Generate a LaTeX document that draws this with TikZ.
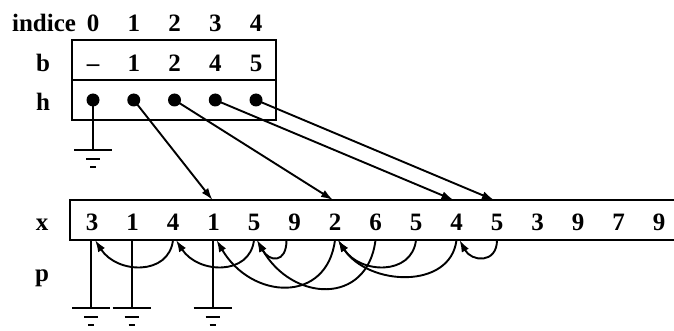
\documentclass[tikz,border=0pt]{standalone}
\usepackage{fontspec}
\setmainfont{Liberation Serif}
\usetikzlibrary{arrows.meta}
\begin{document}
\begin{tikzpicture}[x=1pt,y=-1pt,
  lbl/.style={font=\fontsize{25}{25}\selectfont\bfseries, inner sep=0pt, text height=17pt, text depth=0pt},
  cell/.style={font=\fontsize{25}{25}\selectfont\bfseries, inner sep=0pt, minimum width=40pt, text height=17pt, text depth=0pt},
  box/.style={line width=2.3pt},
  ptr/.style={line width=1.9pt, -{Latex[length=12pt,width=8pt]}},
  dot/.style={circle, fill=black, inner sep=0pt, minimum size=13pt},
  gnd/.style={line width=2pt},
  ground/.pic={\draw[gnd] (-19,0)--(19,0); \draw[gnd] (-7,9)--(7,9); \draw[gnd] (-3,17)--(3,17);}]
\useasboundingbox (0,0) rectangle (674,331);
% labels
\node[lbl] (lind) at (44,23) {indice};
\node[lbl] (lb) at (43,63) {b};
\node[lbl] (lh) at (43,102) {h};
\node[lbl] (lx) at (42,222) {x};
\node[lbl] (lp) at (42,273) {p};
% top table
\draw[box] (72,40) rectangle (276,120);
\draw[box] (72,80) -- (276,80);
\foreach \k/\v in {0/--,1/1,2/2,3/4,4/5}{
  \node[lbl] (i\k) at (93+40.75*\k,23) {\k};
  \node[cell] (b\k) at (93+40.75*\k,63) {\v};
  \node[dot] (h\k) at (93+40.75*\k,100) {};
}
% x array
\draw[box] (676,200) -- (70,200) -- (70,240) -- (676,240);
\foreach \v [count=\i from 0] in {3,1,4,1,5,9,2,6,5,4,5,3,9,7,9}{
  \node[cell] (x\i) at (92+40.5*\i,221.5) {\v};
}
\foreach \i in {0,...,14}{
  \coordinate (xt\i) at (x\i |- 0,200);
  \coordinate (xb\i) at (x\i |- 0,240);
}
% h pointers
\coordinate (g0) at (93,150);
\draw[gnd] (h0.center) -- (g0);
\pic at (g0) {ground};
\draw[ptr] (h1.center) -- ([xshift=-1pt]xt3);
\draw[ptr] (h2.center) -- ([xshift=-2pt]xt6);
\draw[ptr] (h3.center) -- ([xshift=-3pt]xt9);
\draw[ptr] (h4.center) -- ([xshift=-3pt]xt10);
% p grounds
\foreach \i in {0,1,3}{
  \coordinate (pg\i) at ([xshift=-1pt]xb\i |- 0,308);
  \draw[gnd] ([xshift=-1pt]xb\i) -- (pg\i);
  \pic at (pg\i) {ground};
}
% p arcs
\draw[ptr] (xb2) .. controls +(-4,36) and +(22,34) .. ([xshift=3pt]xb0);
\draw[ptr] (xb4) .. controls +(-4,36) and +(22,34) .. ([xshift=3pt]xb2);
\draw[ptr] ([xshift=-8pt]xb5) .. controls +(0,24) and +(12,22) .. ([xshift=3pt]xb4);
\draw[ptr] (xb6) .. controls +(-8,64) and +(35,60) .. ([xshift=3pt]xb3);
\draw[ptr] (xb7) .. controls +(-8,66) and +(35,62) .. ([xshift=3pt]xb4);
\draw[ptr] (xb8) .. controls +(-4,36) and +(22,34) .. ([xshift=3pt]xb6);
\draw[ptr] (xb9) .. controls +(-6,50) and +(30,46) .. ([xshift=3pt]xb6);
\draw[ptr] (xb10) .. controls +(0,24) and +(12,22) .. ([xshift=3pt]xb9);
\end{tikzpicture}
\end{document}
